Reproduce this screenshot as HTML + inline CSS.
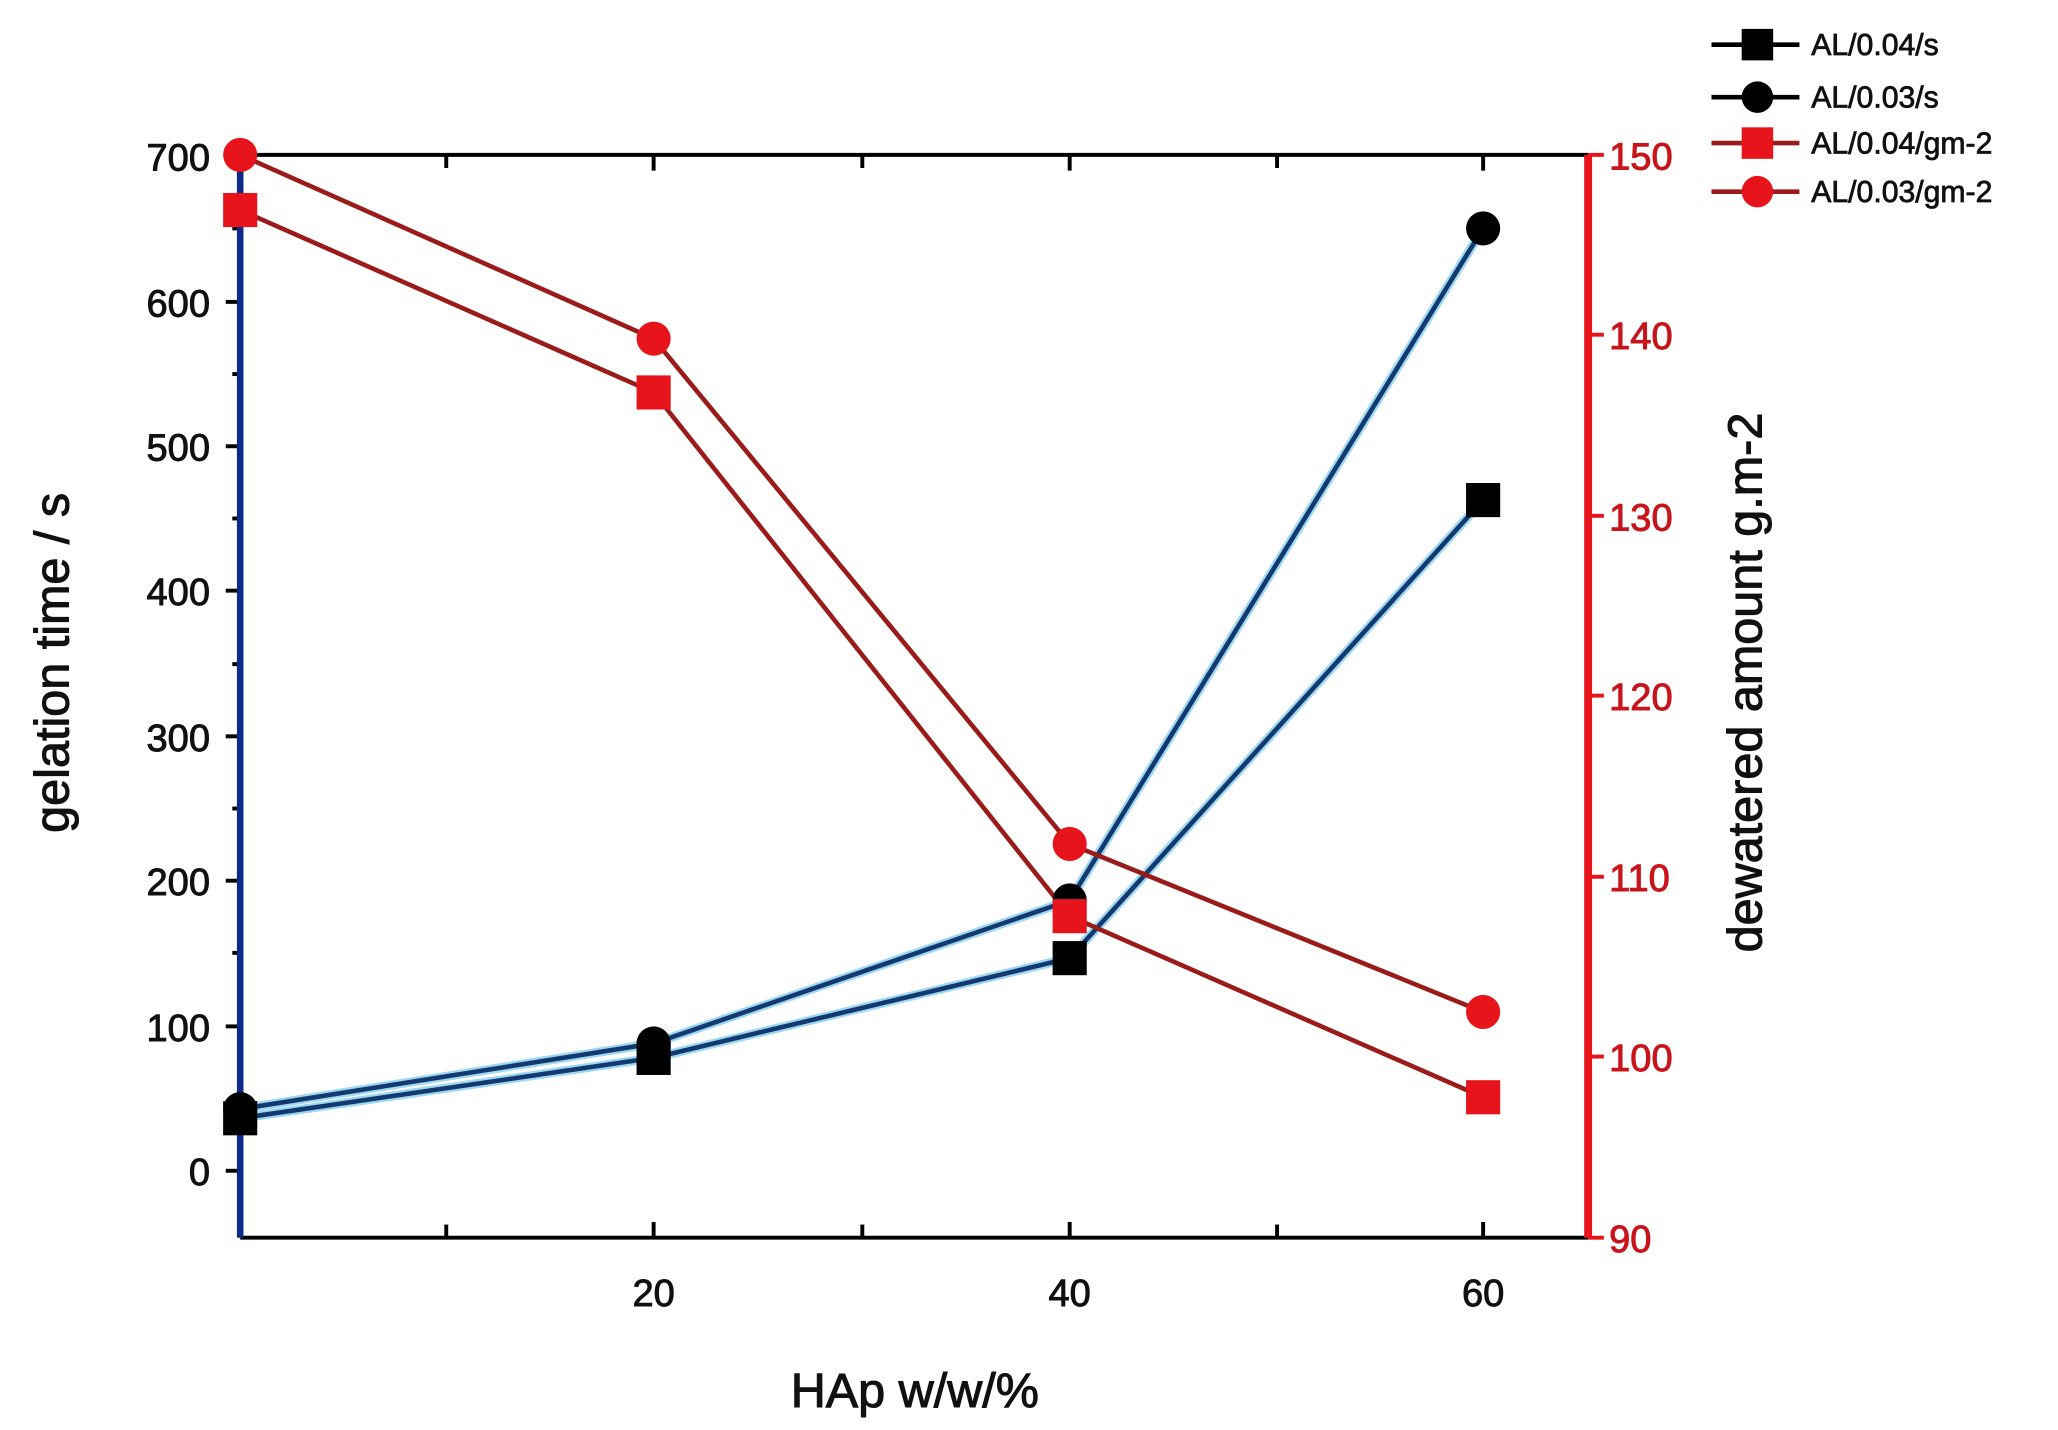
<!DOCTYPE html>
<html><head><meta charset="utf-8"><style>html,body{margin:0;padding:0;background:#fff}svg{display:block}</style></head>
<body>
<svg width="2058" height="1430" viewBox="0 0 1568 1089.5" xmlns="http://www.w3.org/2000/svg" font-family="Liberation Sans, Arial, sans-serif">
<rect width="1568" height="1089.5" fill="#fff"/>
<line x1="183" y1="118" x2="1210" y2="118" stroke="#000" stroke-width="3"/>
<line x1="183" y1="943" x2="1210" y2="943" stroke="#000" stroke-width="3"/>
<g stroke="#000" stroke-width="3">
<line x1="340" y1="118" x2="340" y2="128"/><line x1="498" y1="118" x2="498" y2="130"/><line x1="657" y1="118" x2="657" y2="128"/><line x1="815" y1="118" x2="815" y2="130"/><line x1="973" y1="118" x2="973" y2="128"/><line x1="1130" y1="118" x2="1130" y2="130"/>
<line x1="340" y1="943" x2="340" y2="933"/><line x1="498" y1="943" x2="498" y2="931"/><line x1="657" y1="943" x2="657" y2="933"/><line x1="815" y1="943" x2="815" y2="931"/><line x1="973" y1="943" x2="973" y2="933"/><line x1="1130" y1="943" x2="1130" y2="931"/>
<line x1="172" y1="119" x2="183" y2="119"/><line x1="172" y1="230" x2="183" y2="230"/><line x1="172" y1="340" x2="183" y2="340"/><line x1="172" y1="450" x2="183" y2="450"/><line x1="172" y1="561" x2="183" y2="561"/><line x1="172" y1="671" x2="183" y2="671"/><line x1="172" y1="782" x2="183" y2="782"/><line x1="172" y1="892" x2="183" y2="892"/>
<line x1="177" y1="174" x2="183" y2="174"/><line x1="177" y1="285" x2="183" y2="285"/><line x1="177" y1="395" x2="183" y2="395"/><line x1="177" y1="506" x2="183" y2="506"/><line x1="177" y1="616" x2="183" y2="616"/><line x1="177" y1="726" x2="183" y2="726"/><line x1="177" y1="837" x2="183" y2="837"/>
</g>
<line x1="183" y1="118" x2="183" y2="943" stroke="#0d2a8a" stroke-width="5"/>
<line x1="1210" y1="118" x2="1210" y2="943" stroke="#e8141b" stroke-width="6"/>
<g stroke="#e8141b" stroke-width="3">
<line x1="1210" y1="118" x2="1222" y2="118"/><line x1="1210" y1="255" x2="1222" y2="255"/><line x1="1210" y1="393" x2="1222" y2="393"/><line x1="1210" y1="530" x2="1222" y2="530"/><line x1="1210" y1="668" x2="1222" y2="668"/><line x1="1210" y1="805" x2="1222" y2="805"/><line x1="1210" y1="943" x2="1222" y2="943"/>
</g>
<g font-size="29" fill="#111" stroke="#111" stroke-width="0.7" text-anchor="end">
<text x="160" y="130">700</text><text x="160" y="241">600</text><text x="160" y="351">500</text><text x="160" y="461">400</text><text x="160" y="572">300</text><text x="160" y="682">200</text><text x="160" y="793">100</text><text x="160" y="903">0</text>
</g>
<g font-size="29" fill="#c8141b" stroke="#c8141b" stroke-width="0.7">
<text x="1226" y="129">150</text><text x="1226" y="266">140</text><text x="1226" y="404">130</text><text x="1226" y="541">120</text><text x="1226" y="679">110</text><text x="1226" y="816">100</text><text x="1226" y="954">90</text>
</g>
<g font-size="29" fill="#111" stroke="#111" stroke-width="0.7" text-anchor="middle">
<text x="498" y="995">20</text><text x="815" y="995">40</text><text x="1130" y="995">60</text>
</g>
<text x="697" y="1072" font-size="37" text-anchor="middle" fill="#111" stroke="#111" stroke-width="0.8">HAp w/w/%</text>
<text transform="translate(52,505) rotate(-90)" font-size="37" text-anchor="middle" fill="#111" stroke="#111" stroke-width="0.8">gelation time / s</text>
<text transform="translate(1342,520) rotate(-90)" font-size="37" text-anchor="middle" fill="#111" stroke="#111" stroke-width="0.8">dewatered amount g.m-2</text>
<g fill="none" stroke-linejoin="round">
<polyline points="183,852 498,806 815,730 1130,381" stroke="#9fd8f0" stroke-width="7"/>
<polyline points="183,852 498,806 815,730 1130,381" stroke="#123a70" stroke-width="3.5"/>
<polyline points="183,845 498,795 815,686 1130,174" stroke="#9fd8f0" stroke-width="7"/>
<polyline points="183,845 498,795 815,686 1130,174" stroke="#123a70" stroke-width="3.5"/>
<polyline points="183,160 498,299 815,698 1130,836" stroke="#9b1b1b" stroke-width="3.5"/>
<polyline points="183,118 498,258 815,643 1130,771" stroke="#9b1b1b" stroke-width="3.5"/>
</g>
<g fill="#000">
<rect x="170" y="839" width="26" height="26"/><rect x="485" y="793" width="26" height="26"/><rect x="802" y="717" width="26" height="26"/><rect x="1117" y="368" width="26" height="26"/>
<circle cx="183" cy="845" r="13"/><circle cx="498" cy="795" r="13"/><circle cx="815" cy="686" r="13"/><circle cx="1130" cy="174" r="13"/>
</g>
<g fill="#e8141b">
<rect x="170" y="147" width="26" height="26"/><rect x="485" y="286" width="26" height="26"/><rect x="802" y="685" width="26" height="26"/><rect x="1117" y="823" width="26" height="26"/>
<circle cx="183" cy="118" r="13"/><circle cx="498" cy="258" r="13"/><circle cx="815" cy="643" r="13"/><circle cx="1130" cy="771" r="13"/>
</g>
<g stroke-width="3.5">
<line x1="1304" y1="34" x2="1371" y2="34" stroke="#000"/>
<line x1="1304" y1="74" x2="1371" y2="74" stroke="#000"/>
<line x1="1304" y1="109" x2="1371" y2="109" stroke="#9b1b1b"/>
<line x1="1304" y1="146" x2="1371" y2="146" stroke="#9b1b1b"/>
</g>
<rect x="1327" y="22" width="24" height="24" fill="#000"/>
<circle cx="1339" cy="74" r="12" fill="#000"/>
<rect x="1327" y="97" width="24" height="24" fill="#e8141b"/>
<circle cx="1339" cy="146" r="12" fill="#e8141b"/>
<g font-size="23" fill="#111" stroke="#111" stroke-width="0.6">
<text x="1380" y="42">AL/0.04/s</text><text x="1380" y="82">AL/0.03/s</text><text x="1380" y="117">AL/0.04/gm-2</text><text x="1380" y="154">AL/0.03/gm-2</text>
</g>
</svg>
</body></html>
